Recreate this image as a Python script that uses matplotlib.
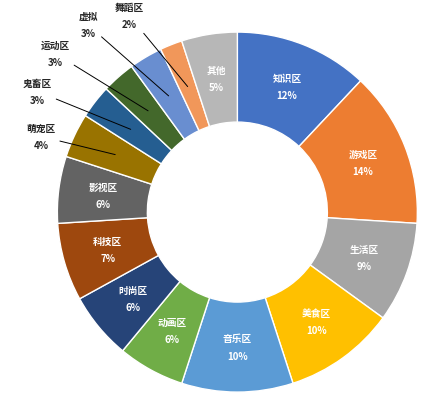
import numpy as np
import matplotlib
matplotlib.use("Agg")
import matplotlib.pyplot as plt

plt.rcParams['font.family'] = ['Noto Sans CJK SC', 'DejaVu Sans']

# 各分区占比（%），从顶部开始顺时针
categories = ['知识区', '游戏区', '生活区', '美食区', '音乐区', '动画区', '时尚区', '科技区',
              '影视区', '萌宠区', '鬼畜区', '运动区', '虚拟', '舞蹈区', '其他']
shares = [12, 14, 9, 10, 10, 6, 6, 7, 6, 4, 3, 3, 3, 2, 5]
colors = ['#4472C4', '#ED7D31', '#A5A5A5', '#FFC000', '#5B9BD5', '#70AD47', '#264478', '#9E480E',
          '#636363', '#997300', '#255E91', '#43682B', '#698ED0', '#F1975A', '#B7B7B7']

# 外部标注的位置（数据坐标）
outside = {'萌宠区': (-1.09, 0.42), '鬼畜区': (-1.11, 0.67), '运动区': (-1.01, 0.88),
           '虚拟': (-0.83, 1.04), '舞蹈区': (-0.60, 1.09)}

fig = plt.figure(figsize=(4.30, 4.02), dpi=100)
ax = fig.add_axes([0.552 - 0.4186, 0.470 - 0.4478, 0.8372, 0.8955])

wedges, _ = ax.pie(shares, colors=colors, startangle=90, counterclock=False,
                   wedgeprops=dict(width=0.5, edgecolor='white', linewidth=1.0))
ax.set_xlim(-1, 1)
ax.set_ylim(-1, 1)
ax.set_aspect('auto')

total = sum(shares)
for w, name, v in zip(wedges, categories, shares):
    ang = np.deg2rad((w.theta1 + w.theta2) / 2)
    px, py = 0.75 * np.cos(ang), 0.75 * np.sin(ang)
    label = f'{name}\n{v / total * 100:.0f}%'
    if name in outside:
        ax.annotate(label, xy=(px, py), xytext=outside[name], ha='center', va='center',
                    fontsize=7, fontweight='bold', color='#262626', linespacing=1.9,
                    annotation_clip=False,
                    arrowprops=dict(arrowstyle='-', color='black', lw=0.7, shrinkA=1, shrinkB=0))
    else:
        ax.text(px, py, label, ha='center', va='center', fontsize=7, fontweight='bold',
                color='white', linespacing=1.9)

fig.savefig('out.png', dpi=100, facecolor='white')
